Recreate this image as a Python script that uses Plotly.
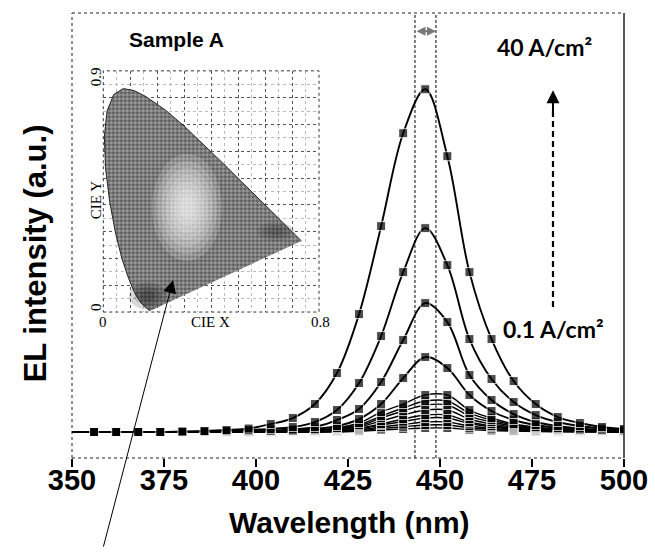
import plotly.graph_objects as go

# Emission wavelength grid (nm); 350 nm only anchors the line at the left edge
wavelength = [350] + list(range(356, 501, 6))

# EL spectra (a.u.) from the highest drive current (40 A/cm2) down to 0.1 A/cm2
el_40 = [0, 0, 0, 0, 0, 0.5, 1, 2, 3.5, 8, 14, 28, 59, 118, 206, 299, 343, 276, 160, 93, 51, 28, 15, 9, 5, 3]
el_02 = [0, 0, 0, 0, 0, 0.3, 0.6, 1, 2, 3, 5, 10, 22, 49, 96, 160, 204, 167, 93, 53, 30, 17, 10, 6, 3.5, 2]
el_03 = [0, 0, 0, 0, 0, 0, 0.3, 0.6, 1, 1.5, 2.5, 5, 12, 23, 50, 92, 129, 110, 57, 32, 18, 10, 6, 3.5, 2, 1]
el_04 = [0, 0, 0, 0, 0, 0, 0, 0.3, 0.6, 1, 1.5, 3, 6, 13, 28, 54, 75, 64, 37, 21, 12, 7, 4, 2.5, 1.5, 1]
el_05 = [0, 0, 0, 0, 0, 0, 0, 0, 0.3, 0.6, 1, 2, 4, 9, 20, 28, 37, 37, 22, 14, 8, 5, 3, 2, 1, 0.5]
el_06 = [0, 0, 0, 0, 0, 0, 0, 0, 0, 0.4, 0.8, 1.5, 3.5, 7, 16, 24, 31, 31, 19, 12, 7, 4, 2.5, 1.5, 1, 0.5]
el_07 = [0, 0, 0, 0, 0, 0, 0, 0, 0, 0.3, 0.6, 1.2, 3, 6, 14, 21, 27, 27, 16, 10, 6, 3.5, 2, 1.2, 0.8, 0.4]
el_08 = [0, 0, 0, 0, 0, 0, 0, 0, 0, 0, 0.5, 1, 2.5, 5, 11, 17, 22, 22, 13, 8, 5, 3, 1.7, 1, 0.6, 0.3]
el_09 = [0, 0, 0, 0, 0, 0, 0, 0, 0, 0, 0, 0.8, 2, 4, 8, 13, 17, 17, 10, 6, 4, 2.3, 1.3, 0.8, 0.5, 0.3]
el_10 = [0, 0, 0, 0, 0, 0, 0, 0, 0, 0, 0, 0.6, 1.5, 3, 7, 10.5, 14, 14, 8.5, 5, 3, 1.8, 1, 0.6, 0.4, 0.2]
el_11 = [0, 0, 0, 0, 0, 0, 0, 0, 0, 0, 0, 0, 1, 2, 5, 7.5, 10, 10, 6, 3.5, 2.2, 1.3, 0.8, 0.5, 0.3, 0.2]
el_12 = [0, 0, 0, 0, 0, 0, 0, 0, 0, 0, 0, 0, 0.7, 1.5, 3.5, 5.3, 7, 7, 4.2, 2.5, 1.5, 0.9, 0.5, 0.3, 0.2, 0.1]
el_01 = [0, 0, 0, 0, 0, 0, 0, 0, 0, 0, 0, 0, 0, 0.8, 2, 3, 4, 4, 2.4, 1.4, 0.9, 0.5, 0.3, 0.2, 0.1, 0]

x_ticks = [350, 375, 400, 425, 450, 475, 500]

# Peak-position guides (nm)
peak_high = 443.2
peak_low = 448.9

# CIE 1931 spectral locus (x, y)
cie_x = [0.1741, 0.1714, 0.1644, 0.1566, 0.1440, 0.1241, 0.1096, 0.0913, 0.0687, 0.0454,
         0.0235, 0.0082, 0.0039, 0.0139, 0.0389, 0.0743, 0.1142, 0.1547, 0.2296, 0.3016,
         0.3731, 0.4441, 0.5125, 0.5752, 0.6270, 0.6915, 0.7190, 0.7347]
cie_y = [0.0050, 0.0051, 0.0109, 0.0177, 0.0297, 0.0578, 0.0868, 0.1327, 0.2007, 0.2950,
         0.4127, 0.5384, 0.6548, 0.7502, 0.8120, 0.8338, 0.8262, 0.8059, 0.7543, 0.6923,
         0.6245, 0.5547, 0.4866, 0.4242, 0.3725, 0.3083, 0.2809, 0.2653]

spectra = [el_01, el_12, el_11, el_10, el_09, el_08, el_07, el_06, el_05, el_04, el_03, el_02, el_40]

fig = go.Figure()

# CIE inset: halftone-style gray fill of the chromaticity horseshoe
fig.add_trace(go.Scatter(
    x=cie_x, y=cie_y, xaxis="x2", yaxis="y2", mode="lines", fill="toself",
    fillcolor="#666666",
    fillpattern=dict(shape=".", fgcolor="#111111", bgcolor="#a4a4a4", size=4, solidity=0.6),
    line=dict(color="#222222", width=1),
    hoverinfo="skip", showlegend=False))

# EL spectra
for i, ys in enumerate(spectra):
    strong = i >= len(spectra) - 4
    fig.add_trace(go.Scatter(
        x=wavelength, y=ys, mode="lines+markers",
        line=dict(color="black", width=1.9 if strong else 1.4, shape="spline", smoothing=1.0),
        marker=dict(symbol="square", color="black",
                    size=[0] + [9] * (len(wavelength) - 1)),
        showlegend=False, cliponaxis=True))

shapes = []
# plot frame: dotted top / left / bottom, solid right
for x0, y0, x1, y1, dash, w in [(0, 1, 1, 1, "dot", 1), (0, 0, 0, 1, "dot", 1),
                                (0, 0, 1, 0, "dot", 1.2), (1, 0, 1, 1, "solid", 1.5)]:
    shapes.append(dict(type="line", xref="paper", yref="paper", x0=x0, y0=y0, x1=x1, y1=y1,
                       line=dict(color="#222", width=w, dash=dash)))
# peak guides
for xv in (peak_high, peak_low):
    shapes.append(dict(type="line", xref="x", yref="paper", x0=xv, x1=xv, y0=0, y1=1,
                       line=dict(color="black", width=1, dash="3px,2px")))
# current-increase dashed shaft
shapes.append(dict(type="line", xref="x", yref="y", x0=480.7, x1=480.7, y0=125, y1=322,
                   line=dict(color="black", width=2.2, dash="6px,4px")))
# soft light/dark shading inside the chromaticity diagram
shade = []
for k in range(7):
    f = 1 - k * 0.13
    shade.append((0.31, 0.39, 0.13 * f, 0.20 * f, "white", 0.17))
for k in range(3):
    f = 1 - k * 0.3
    shade.append((0.165, 0.06, 0.07 * f, 0.05 * f, "black", 0.15))
for k in range(3):
    f = 1 - k * 0.3
    shade.append((0.64, 0.30, 0.07 * f, 0.035 * f, "black", 0.1))
for cx, cy, rx, ry, col, op in shade:
    shapes.append(dict(type="circle", xref="x2", yref="y2", x0=cx - rx, x1=cx + rx,
                       y0=cy - ry, y1=cy + ry, fillcolor=col, opacity=op,
                       line=dict(width=0), layer="above"))
# inset frame
shapes.append(dict(type="rect", xref="x2 domain", yref="y2 domain", x0=0, x1=1, y0=0, y1=1,
                   line=dict(color="#333", width=1, dash="dot")))

bold_sans = "Liberation Sans"
serif = "Liberation Serif"
inset_font = dict(family=serif, size=15, color="black")


def paper_text(text, x, y, font, angle=0):
    return dict(text=text, xref="paper", yref="paper", x=x, y=y, showarrow=False,
                textangle=angle, font=font, xanchor="center", yanchor="middle")


annotations = [
    paper_text("Wavelength (nm)", 0.502, -0.146,
               dict(family=bold_sans, size=30, color="black", weight="bold")),
    paper_text("EL intensity (a.u.)", -0.067, 0.46,
               dict(family=bold_sans, size=31, color="black", weight="bold"), -90),
    paper_text("Sample A", 0.19, 0.941,
               dict(family=bold_sans, size=21, color="black", weight="bold")),
    dict(text="40 A/cm²", xref="x", yref="y", x=478.5, y=385, showarrow=False,
         xanchor="center", yanchor="middle",
         font=dict(family="Lato", size=23, color="black", weight="bold")),
    dict(text="0.1 A/cm²", xref="x", yref="y", x=480.9, y=103, showarrow=False,
         xanchor="center", yanchor="middle",
         font=dict(family="Lato", size=23, color="black", weight="bold")),
    # head of the current-increase arrow
    dict(text="", x=480.7, y=342, ax=480.7, ay=318, xref="x", yref="y", axref="x", ayref="y",
         showarrow=True, arrowhead=2, arrowsize=1.3, arrowwidth=2, arrowcolor="black"),
    # peak-shift double arrow
    dict(text="", x=peak_low, y=401, ax=peak_high, ay=401, xref="x", yref="y",
         axref="x", ayref="y", showarrow=True, arrowhead=2, arrowside="end+start",
         arrowsize=0.9, arrowwidth=2, arrowcolor="#777"),
    # pointer to the emission colour point in the CIE diagram
    dict(text="", xref="paper", yref="paper", x=0.183, y=0.3997, ax=-70, ay=268,
         showarrow=True, arrowhead=2, arrowsize=2.6, arrowwidth=1, arrowcolor="black"),
    # inset axis labels
    paper_text("0", 0.0562, 0.3054, inset_font),
    paper_text("CIE X", 0.25, 0.3054, inset_font),
    paper_text("0.8", 0.4493, 0.3054, inset_font),
    paper_text("0.9", 0.0435, 0.8556, inset_font, -90),
    paper_text("CIE Y", 0.0435, 0.5794, inset_font, -90),
    paper_text("0", 0.0435, 0.3391, inset_font, -90),
]

fig.update_layout(
    width=655, height=556,
    margin=dict(l=72, r=31, t=13, b=98, autoexpand=False),
    paper_bgcolor="white", plot_bgcolor="white",
    shapes=shapes, annotations=annotations,
    xaxis=dict(range=[350, 500], tickvals=x_ticks, ticks="outside", ticklen=8, tickwidth=1.5,
               tickcolor="black", showline=False, showgrid=False, zeroline=False,
               automargin=False, ticklabelstandoff=-12,
               tickfont=dict(family=bold_sans, size=29, color="black", weight="bold")),
    yaxis=dict(range=[-26, 419.3], showticklabels=False, showgrid=False, zeroline=False,
               showline=False, ticks="", automargin=False),
    xaxis2=dict(domain=[0.0567, 0.4475], anchor="y2", range=[0, 0.8], showticklabels=False,
                ticks="", showline=False, zeroline=False, automargin=False,
                showgrid=True, dtick=0.1, gridcolor="#555", griddash="dot", gridwidth=1,
                minor=dict(showgrid=True, dtick=0.05, gridcolor="#bbb", griddash="dot")),
    yaxis2=dict(domain=[0.328, 0.870], anchor="x2", range=[0, 0.9], showticklabels=False,
                ticks="", showline=False, zeroline=False, automargin=False,
                showgrid=True, dtick=0.1, gridcolor="#555", griddash="dot", gridwidth=1,
                minor=dict(showgrid=True, dtick=0.05, gridcolor="#bbb", griddash="dot")),
)

fig.write_html("out.html")
